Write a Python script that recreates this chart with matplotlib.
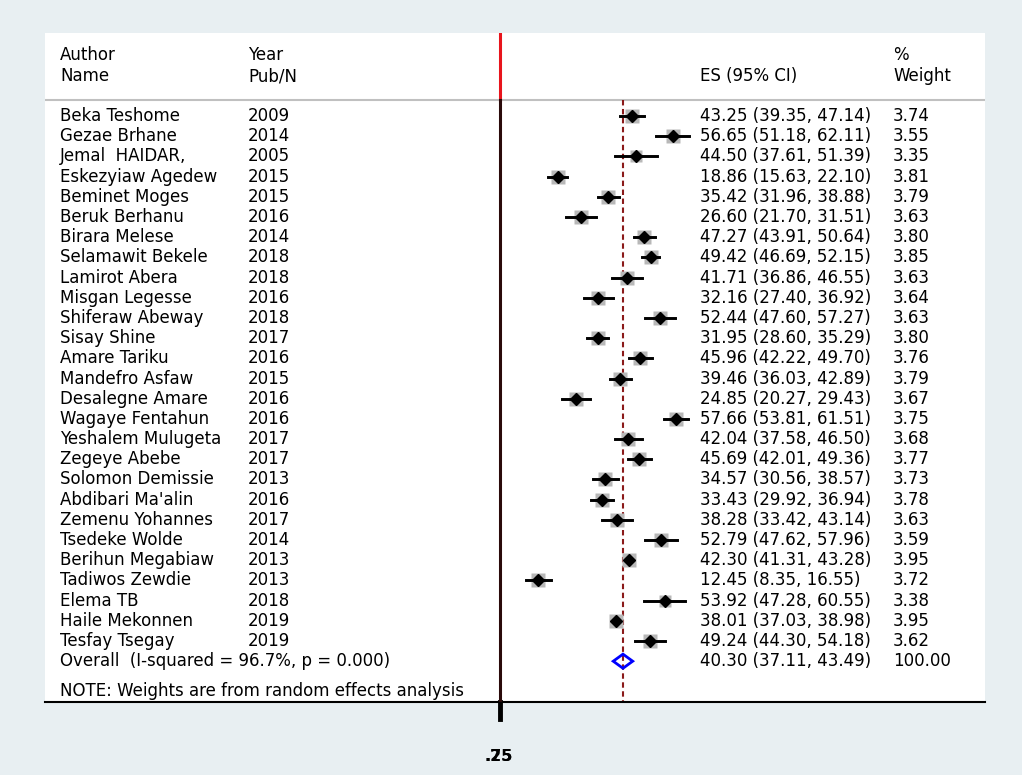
import numpy as np
import matplotlib
matplotlib.use('Agg')
from matplotlib import pyplot as plt
from matplotlib import transforms
from matplotlib.patches import Polygon

plt.rcParams['font.family'] = ['DejaVu Sans']

## Study data
authors = ['Beka Teshome', 'Gezae Brhane', 'Jemal  HAIDAR,', 'Eskezyiaw Agedew',
           'Beminet Moges', 'Beruk Berhanu', 'Birara Melese', 'Selamawit Bekele',
           'Lamirot Abera', 'Misgan Legesse', 'Shiferaw Abeway', 'Sisay Shine',
           'Amare Tariku', 'Mandefro Asfaw', 'Desalegne Amare', 'Wagaye Fentahun',
           'Yeshalem Mulugeta', 'Zegeye Abebe', 'Solomon Demissie', "Abdibari Ma'alin",
           'Zemenu Yohannes', 'Tsedeke Wolde', 'Berihun Megabiaw', 'Tadiwos Zewdie',
           'Elema TB', 'Haile Mekonnen', 'Tesfay Tsegay']
years = ['2009', '2014', '2005', '2015', '2015', '2016', '2014', '2018', '2018',
         '2016', '2018', '2017', '2016', '2015', '2016', '2016', '2017', '2017',
         '2013', '2016', '2017', '2014', '2013', '2013', '2018', '2019', '2019']
es = [43.25, 56.65, 44.50, 18.86, 35.42, 26.60, 47.27, 49.42, 41.71, 32.16, 52.44,
      31.95, 45.96, 39.46, 24.85, 57.66, 42.04, 45.69, 34.57, 33.43, 38.28, 52.79,
      42.30, 12.45, 53.92, 38.01, 49.24]
ci_low = [39.35, 51.18, 37.61, 15.63, 31.96, 21.70, 43.91, 46.69, 36.86, 27.40, 47.60,
          28.60, 42.22, 36.03, 20.27, 53.81, 37.58, 42.01, 30.56, 29.92, 33.42, 47.62,
          41.31, 8.35, 47.28, 37.03, 44.30]
ci_high = [47.14, 62.11, 51.39, 22.10, 38.88, 31.51, 50.64, 52.15, 46.55, 36.92, 57.27,
           35.29, 49.70, 42.89, 29.43, 61.51, 46.50, 49.36, 38.57, 36.94, 43.14, 57.96,
           43.28, 16.55, 60.55, 38.98, 54.18]
weights = [3.74, 3.55, 3.35, 3.81, 3.79, 3.63, 3.80, 3.85, 3.63, 3.64, 3.63, 3.80,
           3.76, 3.79, 3.67, 3.75, 3.68, 3.77, 3.73, 3.78, 3.63, 3.59, 3.95, 3.72,
           3.38, 3.95, 3.62]

overall_label = 'Overall  (I-squared = 96.7%, p = 0.000)'
overall_es, overall_lo, overall_hi = 40.30, 37.11, 43.49
overall_weight = '100.00'
note = 'NOTE: Weights are from random effects analysis'
tick_labels = ['.25', '.75']

W, H = 1022, 775
fig = plt.figure(figsize=(W / 100, H / 100), dpi=100, facecolor='#e8eff2')

# white plot region
ax = fig.add_axes([45 / W, (H - 702) / H, (985 - 45) / W, (702 - 33) / H])
ax.set_facecolor('white')
for s in ['left', 'right', 'top']:
    ax.spines[s].set_visible(False)
ax.spines['bottom'].set_linewidth(1.5)
ax.set_xlim(-149.2, 159.0)
ax.set_ylim(29.02, -4.11)
ax.set_yticks([])
ax.set_xticks([])

n = len(authors)
rows = np.arange(n)
row_overall = n
row_note = n + 1.48
hdr1, hdr2, hdr_line = -3.02, -1.98, -0.79

# text columns in figure x, data y
tr = transforms.blended_transform_factory(fig.transFigure, ax.transData)
col_author, col_year, col_es, col_wt = 60 / W, 248 / W, 700 / W, 893 / W
fs = 12

def put(x, y, s):
    ax.text(x, y, s, transform=tr, va='center', fontsize=fs)

put(col_author, hdr1, 'Author')
put(col_author, hdr2, 'Name')
put(col_year, hdr1, 'Year')
put(col_year, hdr2, 'Pub/N')
put(col_es, hdr2, 'ES (95% CI)')
put(col_wt, hdr1, '%')
put(col_wt, hdr2, 'Weight')
ax.axhline(hdr_line, color='#c0c0c0', lw=1.5)

for i in range(n):
    put(col_author, rows[i], authors[i])
    put(col_year, rows[i], years[i])
    put(col_es, rows[i], f'{es[i]:.2f} ({ci_low[i]:.2f}, {ci_high[i]:.2f})')
    put(col_wt, rows[i], f'{weights[i]:.2f}')

put(col_author, row_overall, overall_label)
put(col_es, row_overall, f'{overall_es:.2f} ({overall_lo:.2f}, {overall_hi:.2f})')
put(col_wt, row_overall, overall_weight)
put(col_author, row_note, note)

## null line (red above header, dark below) and overall dashed line
ax.plot([0, 0], [-4.11, hdr_line], color='#e8141c', lw=2.2, zorder=3)
ax.plot([0, 0], [hdr_line, 29.02], color='#2a0a0a', lw=2.2, zorder=3)
ax.plot([overall_es, overall_es], [hdr_line, 29.02], color='#8b1a1a', lw=1.5,
        ls=(0, (2.6, 1.7)), zorder=2)

## weight boxes, CI lines, point estimates
for i in range(n):
    msz = 9.6 * np.sqrt(weights[i] / 3.7)
    ax.plot(es[i], rows[i], 's', ms=msz, color='#b8b8b8', mec='none', zorder=3)
    ax.plot([ci_low[i], ci_high[i]], [rows[i], rows[i]], color='black', lw=2.1, zorder=4)
    ax.plot(es[i], rows[i], 'D', ms=6.0, color='black', zorder=5)

h = 0.35
diamond = Polygon([[overall_lo, row_overall], [overall_es, row_overall - h],
                   [overall_hi, row_overall], [overall_es, row_overall + h]],
                  closed=True, fill=False, edgecolor='#0000ff', lw=2, zorder=5)
ax.add_patch(diamond)

## x axis tick below the panel (two labels drawn on top of each other, as in the original)
ax.plot([0, 0], [29.02, 29.85], color='black', lw=3.5, clip_on=False)
for lab in tick_labels:
    ax.text(-0.5, 31.7, lab, ha='center', va='center', fontsize=fs - 0.5,
            fontweight='bold', clip_on=False)

fig.savefig('out.png', dpi=100, facecolor=fig.get_facecolor())
